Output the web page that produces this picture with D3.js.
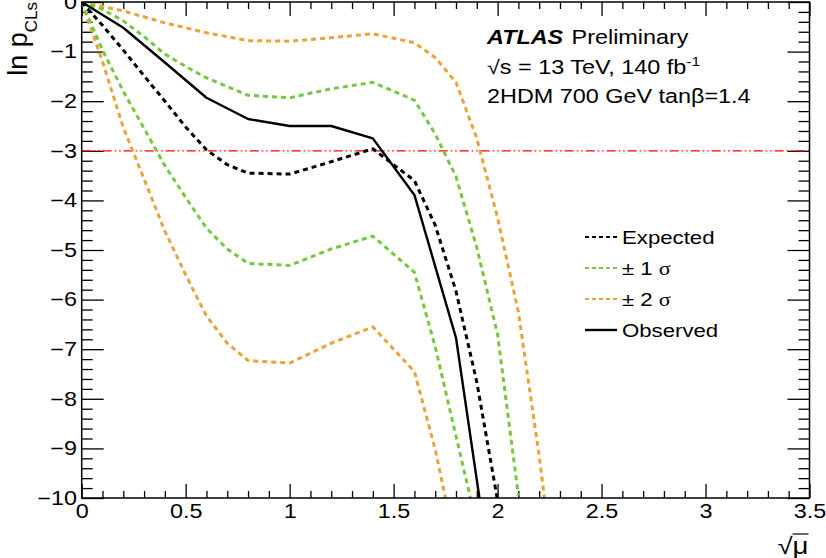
<!DOCTYPE html>
<html>
<head>
<meta charset="utf-8">
<script src="https://cdn.jsdelivr.net/npm/d3@7"></script>
<style>
  body { margin: 0; background: #fff; }
  svg { display: block; font-family: "Liberation Sans", Arial, Helvetica, sans-serif; }
</style>
</head>
<body>
<div id="chart"></div>
<script>
// ── Data ──────────────────────────────────────────────
const obsX  = [0, 0.2, 0.4, 0.6, 0.8, 1.0, 1.2, 1.4, 1.6, 1.8, 2.0];
const obsY  = [0, -0.52, -1.22, -1.93, -2.36, -2.5, -2.5, -2.75, -3.89, -6.77, -12.5];

const expX  = [0, 0.1, 0.2, 0.3, 0.4, 0.5, 0.6, 0.7, 0.8, 1.0, 1.2, 1.4, 1.6, 1.7, 1.8, 1.9, 2.0];
const expY  = [0, -0.47, -0.97, -1.49, -2.0, -2.52, -2.98, -3.28, -3.45, -3.47, -3.22, -2.96, -3.6, -4.5, -5.83, -7.66, -10.05];

const p1X   = [0, 0.1, 0.2, 0.3, 0.4, 0.5, 0.6, 0.8, 1.0, 1.2, 1.4, 1.6, 1.7, 1.8, 1.9, 2.0, 2.1];
const p1Y   = [0, -0.15, -0.38, -0.7, -1.05, -1.3, -1.53, -1.88, -1.93, -1.75, -1.62, -1.98, -2.66, -3.52, -4.95, -6.7, -9.95];

const m1X   = [0, 0.1, 0.2, 0.3, 0.4, 0.5, 0.6, 0.7, 0.8, 1.0, 1.2, 1.4, 1.6, 1.7, 1.8, 1.9];
const m1Y   = [0, -0.97, -1.8, -2.55, -3.3, -3.94, -4.56, -4.98, -5.27, -5.31, -4.98, -4.72, -5.45, -6.95, -8.75, -10.55];

const p2X   = [0, 0.2, 0.4, 0.6, 0.8, 1.0, 1.2, 1.4, 1.6, 1.7, 1.8, 1.9, 2.0, 2.1, 2.2, 2.3];
const p2Y   = [0, -0.18, -0.42, -0.62, -0.78, -0.79, -0.72, -0.64, -0.82, -1.12, -1.62, -2.75, -4.35, -6.25, -9.15, -12.5];

const m2X   = [0, 0.1, 0.2, 0.3, 0.4, 0.5, 0.6, 0.7, 0.8, 1.0, 1.2, 1.4, 1.6, 1.7, 1.8];
const m2Y   = [0, -1.2, -2.53, -3.57, -4.62, -5.5, -6.33, -6.88, -7.23, -7.28, -6.88, -6.55, -7.45, -9.02, -11.0];

const refLevel   = -3;
const xMajor     = [0, 0.5, 1, 1.5, 2, 2.5, 3, 3.5];
const yMajor     = [0, -1, -2, -3, -4, -5, -6, -7, -8, -9, -10];
const legendText = ['Expected', '± 1 σ', '± 2 σ', 'Observed'];

// ── Layout ───────────────────────────────────────────
const W = 826, H = 558;
const L = 81.7, R = 809.5, T = 2, B = 498;
const GREEN = '#74c83e', ORANGE = '#eaa23a';
const SX = 1.2;   // the reference text is a bit wider than it is tall

const svg = d3.select('#chart').append('svg')
    .attr('width', W).attr('height', H);

const x = d3.scaleLinear().domain([0, 3.5]).range([L, R]);
const y = d3.scaleLinear().domain([-10, 0]).range([B, T]);

const xMinor = d3.range(0, 36).map(i => i / 10).filter(v => !xMajor.includes(v));
const yMinor = d3.range(0, 51).map(i => -i / 5).filter(v => !yMajor.includes(v));

svg.append('defs').append('clipPath').attr('id', 'frame')
    .append('rect').attr('x', L).attr('y', T).attr('width', R - L).attr('height', B - T);

// ── Axes (ticks on all four sides, pointing inward) ─
const fmtX = d3.format('~g');
const fmtY = d3.format('d');

function addAxis(axis, tx, ty, labels) {
    const g = svg.append('g').attr('transform', `translate(${tx},${ty})`).call(axis);
    g.select('.domain').remove();
    g.selectAll('line').attr('stroke', '#000').attr('stroke-width', 1.3);
    g.selectAll('text').attr('fill', '#000')
        .style('font-size', '19.5px')
        .attr('transform', `scale(${SX},1)`);
    if (!labels) g.selectAll('text').remove();
    return g;
}

addAxis(d3.axisBottom(x).tickValues(xMajor).tickSizeInner(-14).tickPadding(6).tickFormat(fmtX), 0, B, true);
addAxis(d3.axisBottom(x).tickValues(xMinor).tickSizeInner(-7), 0, B, false);
addAxis(d3.axisTop(x).tickValues(xMajor).tickSizeInner(-14), 0, T, false);
addAxis(d3.axisTop(x).tickValues(xMinor).tickSizeInner(-7), 0, T, false);

addAxis(d3.axisLeft(y).tickValues(yMajor).tickSizeInner(-22).tickPadding(4).tickFormat(fmtY), L, 0, true);
addAxis(d3.axisLeft(y).tickValues(yMinor).tickSizeInner(-11), L, 0, false);
addAxis(d3.axisRight(y).tickValues(yMajor).tickSizeInner(-22), R, 0, false);
addAxis(d3.axisRight(y).tickValues(yMinor).tickSizeInner(-11), R, 0, false);

// ── Curves ────────────────────────────────────────────
const plot = svg.append('g').attr('clip-path', 'url(#frame)');
const line = d3.line().x(d => x(d[0])).y(d => y(d[1]));
const zip = (xs, ys) => xs.map((v, i) => [v, ys[i]]);

plot.append('line')
    .attr('x1', x(0)).attr('x2', x(3.5))
    .attr('y1', y(refLevel)).attr('y2', y(refLevel))
    .attr('stroke', '#ff0000').attr('stroke-width', 1.2)
    .attr('stroke-dasharray', '9 3 1.5 3 1.5 3');

const series = [
    { data: zip(p2X, p2Y), color: ORANGE, dash: '5 4', w: 3 },
    { data: zip(m2X, m2Y), color: ORANGE, dash: '5 4', w: 3 },
    { data: zip(p1X, p1Y), color: GREEN,  dash: '5 4', w: 3 },
    { data: zip(m1X, m1Y), color: GREEN,  dash: '5 4', w: 3 },
    { data: zip(expX, expY), color: '#000', dash: '5 4', w: 3 },
    { data: zip(obsX, obsY), color: '#000', dash: null, w: 2.4 }
];

plot.selectAll('path.curve')
    .data(series)
    .join('path')
    .attr('class', 'curve')
    .attr('d', d => line(d.data))
    .attr('fill', 'none')
    .attr('stroke', d => d.color)
    .attr('stroke-width', d => d.w)
    .attr('stroke-linejoin', 'round')
    .attr('stroke-dasharray', d => d.dash);

// ── Frame ────────────────────────────────────────────
svg.append('rect')
    .attr('x', L).attr('y', T).attr('width', R - L).attr('height', B - T)
    .attr('fill', 'none').attr('stroke', '#000').attr('stroke-width', 1.5);

// ── Legend ───────────────────────────────────────────
const legendStyle = [
    { color: '#000', dash: '4 3' },
    { color: GREEN,  dash: '4 3' },
    { color: ORANGE, dash: '4 3' },
    { color: '#000', dash: null }
];
const leg = svg.append('g').attr('transform', 'translate(585,237)');
legendText.forEach((t, i) => {
    const gy = i * 31;
    leg.append('line')
        .attr('x1', 0).attr('x2', 32).attr('y1', gy).attr('y2', gy)
        .attr('stroke', legendStyle[i].color)
        .attr('stroke-width', legendStyle[i].dash ? 2.2 : 2.4)
        .attr('stroke-dasharray', legendStyle[i].dash);
    const tx = leg.append('text')
        .attr('transform', `translate(37,${gy + 7}) scale(${SX},1)`)
        .style('font-size', '18.5px');
    if (t.includes('σ')) {
        tx.append('tspan').text(t.replace('σ', ''));
        tx.append('tspan').text('σ').style('font-family', '"Liberation Serif", "Times New Roman", serif');
    } else {
        tx.text(t);
    }
});

// ── Labels ───────────────────────────────────────────
const info = svg.append('g').style('font-size', '19.5px');
const t1 = info.append('text').attr('transform', `translate(487,44) scale(${SX},1)`);
t1.append('tspan').text('ATLAS').style('font-weight', 'bold').style('font-style', 'italic');
t1.append('tspan').attr('dx', 7).text('Preliminary');

const t2 = info.append('text').attr('transform', `translate(487,74) scale(${SX},1)`);
t2.append('tspan').text('√s = 13 TeV, 140 fb');
t2.append('tspan').attr('dy', -8).style('font-size', '13px').text('-1');

info.append('text').attr('transform', `translate(487,103) scale(${SX},1)`)
    .text('2HDM 700 GeV tanβ=1.4');

// y-axis title
const yt = svg.append('text')
    .attr('transform', 'translate(27,0) rotate(-90)')
    .attr('text-anchor', 'end')
    .attr('x', -T)
    .attr('y', 0)
    .style('font-size', '27px');
yt.append('tspan').text('ln p');
yt.append('tspan').attr('dy', 10).style('font-size', '17px').text('CLs');

// x-axis title
svg.append('text')
    .attr('transform', `translate(${R - 1},554) scale(${SX},1)`)
    .attr('text-anchor', 'end')
    .style('font-size', '23px')
    .text('√μ');
svg.append('line')
    .attr('x1', R - 17).attr('x2', R - 1).attr('y1', 534).attr('y2', 534)
    .attr('stroke', '#000').attr('stroke-width', 1.2);
</script>
</body>
</html>
